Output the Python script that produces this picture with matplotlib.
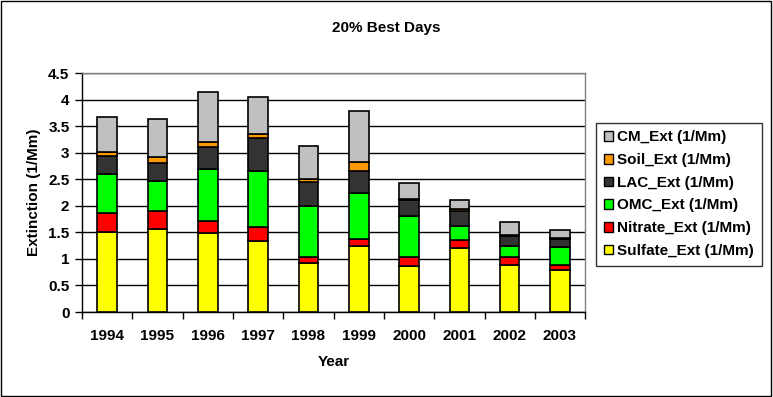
import matplotlib
matplotlib.use("Agg")
import matplotlib.pyplot as plt
import matplotlib.patches as mpatches
import numpy as np

plt.rcParams['font.family'] = ['Liberation Sans', 'DejaVu Sans']
plt.rcParams['font.weight'] = 'bold'

years = ['1994', '1995', '1996', '1997', '1998', '1999', '2000', '2001', '2002', '2003']
sulfate = [1.50, 1.57, 1.49, 1.34, 0.93, 1.25, 0.87, 1.21, 0.89, 0.79]
nitrate = [0.37, 0.34, 0.23, 0.26, 0.10, 0.13, 0.16, 0.15, 0.15, 0.10]
omc     = [0.73, 0.56, 0.98, 1.06, 0.97, 0.87, 0.78, 0.26, 0.21, 0.34]
lac     = [0.33, 0.34, 0.41, 0.62, 0.44, 0.40, 0.30, 0.29, 0.19, 0.15]
soil    = [0.09, 0.11, 0.10, 0.07, 0.07, 0.17, 0.02, 0.03, 0.02, 0.02]
cm      = [0.65, 0.72, 0.93, 0.70, 0.62, 0.97, 0.30, 0.17, 0.23, 0.14]

series = [
    ("Sulfate_Ext (1/Mm)", sulfate, "#ffff00"),
    ("Nitrate_Ext (1/Mm)", nitrate, "#ff0000"),
    ("OMC_Ext (1/Mm)", omc, "#00ff00"),
    ("LAC_Ext (1/Mm)", lac, "#333333"),
    ("Soil_Ext (1/Mm)", soil, "#ff9900"),
    ("CM_Ext (1/Mm)", cm, "#c0c0c0"),
]

fig = plt.figure(figsize=(7.73, 3.97), dpi=100)
ax = fig.add_axes([0.106, 0.214, 0.651, 0.602])

x = np.arange(len(years))
bottom = np.zeros(len(years))
for label, vals, color in series:
    ax.bar(x, vals, 0.39, bottom=bottom, color=color, edgecolor='black',
           linewidth=1.2, label=label, zorder=3)
    bottom += np.array(vals)

ax.set_xlim(-0.5, len(years) - 0.5)
ax.set_ylim(0, 4.5)
ax.set_yticks(np.arange(0, 4.51, 0.5))
ax.set_yticklabels(['0', '0.5', '1', '1.5', '2', '2.5', '3', '3.5', '4', '4.5'])
ax.set_xticks(x)
ax.set_xticklabels(years)
ax.set_xticks(np.arange(-0.5, len(years), 1.0), minor=True)
ax.tick_params(axis='x', which='major', length=0, pad=12, labelsize=11)
ax.tick_params(axis='x', which='minor', length=5, width=1, direction='out')
ax.tick_params(axis='y', length=5, width=1, direction='out', labelsize=11, pad=4)
ax.grid(axis='y', color='black', linewidth=1, zorder=0)

for s in ['left', 'bottom']:
    ax.spines[s].set_color('black')
    ax.spines[s].set_linewidth(1)
for s in ['top', 'right']:
    ax.spines[s].set_color('#808080')
    ax.spines[s].set_linewidth(1)

ax.set_xlabel("Year", fontsize=11, fontweight='bold', labelpad=9)
ax.set_ylabel("Extinction (1/Mm)", fontsize=11, fontweight='bold', labelpad=5)
fig.text(0.5, 0.93, "20% Best Days", ha='center', va='center', fontsize=11,
         fontweight='bold')

leg_handles = [mpatches.Patch(facecolor=c, edgecolor='black', label=l)
               for l, v, c in reversed(series)]
leg = fig.legend(handles=leg_handles, loc='center left',
                 bbox_to_anchor=(0.771, 0.511), frameon=True,
                 prop={'size': 11, 'weight': 'bold'},
                 fancybox=False, edgecolor='black', handlelength=0.6,
                 handleheight=0.6, handletextpad=0.3, labelspacing=0.57,
                 borderpad=0.5, borderaxespad=0)
leg.get_frame().set_linewidth(1)

fig.add_artist(mpatches.Rectangle((0.001, 0.002), 0.997, 0.996, transform=fig.transFigure,
                                  fill=False, edgecolor='black', linewidth=1))

fig.savefig("out.png", dpi=100)
